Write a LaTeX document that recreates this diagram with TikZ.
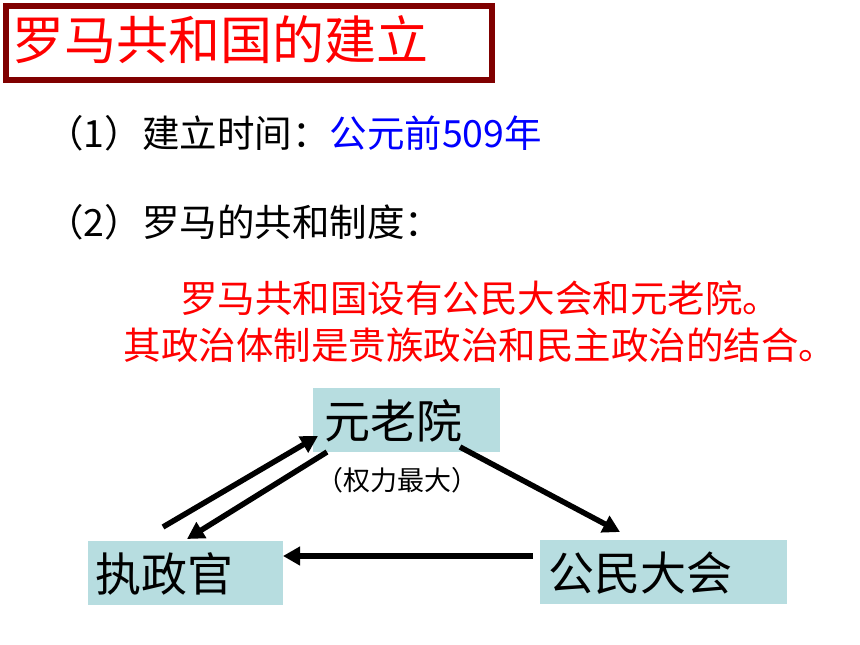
\documentclass[tikz,border=0pt]{standalone}
\usepackage{fontspec}
\setmainfont{Noto Sans CJK SC}
\usetikzlibrary{arrows.meta}
\definecolor{boxblue}{HTML}{B7DDE0}
\definecolor{darkred}{HTML}{800000}
\definecolor{txtblue}{HTML}{0000FF}
\definecolor{txtred}{HTML}{FF0000}
\tikzset{
  fbox/.style={fill=boxblue, draw=none, inner sep=0pt},
  boxtext/.style={inner sep=0pt, font=\fontsize{46}{46}\selectfont},
  arr/.style={line width=5.5pt, -{Triangle[length=17pt,width=18pt]}},
  plain/.style={inner sep=0pt, anchor=west}
}
\begin{document}
\begin{tikzpicture}[x=1pt,y=-1pt]
\useasboundingbox (0,0) rectangle (860,645);
% title
\node[draw=darkred, line width=6pt, minimum width=486pt, minimum height=74pt, anchor=north west, inner sep=0pt] (titlebox) at (3,3) {};
\node[plain, text=txtred, font=\fontsize{52}{52}\selectfont] (title) at (12,40) {罗马共和国的建立};
% lines
\node[plain, font=\fontsize{37.5}{37.5}\selectfont] (l1) at (46,133) {（1）建立时间：\textcolor{txtblue}{公元前509年}};
\node[plain, font=\fontsize{37.5}{37.5}\selectfont] (l2) at (46,222) {（2）罗马的共和制度：};
\node[inner sep=0pt, text=txtred, font=\fontsize{37.5}{37.5}\selectfont] (r1) at (480,298) {罗马共和国设有公民大会和元老院。};
\node[inner sep=0pt, text=txtred, font=\fontsize{37.5}{37.5}\selectfont] (r2) at (480,345) {其政治体制是贵族政治和民主政治的结合。};
% boxes
\node[fbox, minimum width=187pt, minimum height=64pt] (yl) at (406.5,420) {};
\node[boxtext] at (393,421) {元老院};
\node[fbox, minimum width=195pt, minimum height=64pt] (zz) at (185.5,573) {};
\node[boxtext, anchor=west] at (95,574) {执政官};
\node[fbox, minimum width=247pt, minimum height=64pt] (gm) at (663.5,572) {};
\node[boxtext, anchor=west] at (548,573) {公民大会};
\node[inner sep=0pt, font=\fontsize{27}{27}\selectfont] (note) at (397,480) {（权力最大）};
% arrows
\coordinate (a1s) at (163,527);
\coordinate (a1e) at (318,436);
\coordinate (a2s) at (327,452);
\coordinate (a2e) at (187,539);
\coordinate (a3s) at (460,447);
\coordinate (a3e) at (620,532);
\coordinate (a4s) at (533,556);
\coordinate (a4e) at (283,556);
\draw[arr] (a1s) -- (a1e);
\draw[arr] (a2s) -- (a2e);
\draw[arr] (a3s) -- (a3e);
\draw[arr] (a4s) -- (a4e);
\end{tikzpicture}
\end{document}
